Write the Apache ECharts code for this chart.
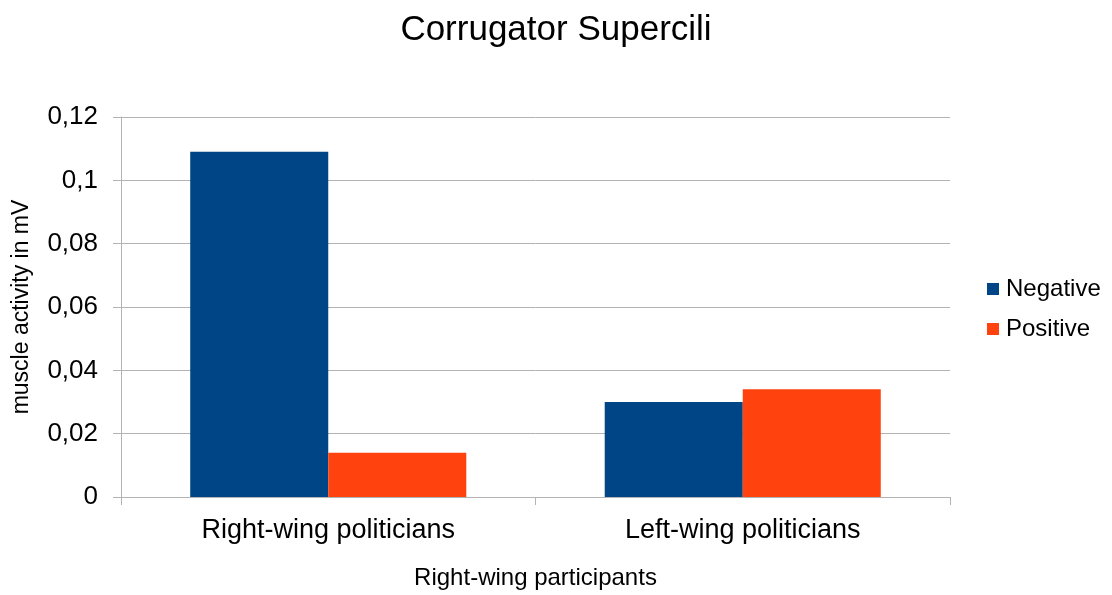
<!DOCTYPE html>
<html>
<head>
<meta charset="utf-8">
<script src="https://cdn.jsdelivr.net/npm/echarts@6/dist/echarts.min.js"></script>
<style>
  html, body { margin: 0; padding: 0; background: #fff; }
  #chart { width: 1112px; height: 595px; }
</style>
</head>
<body>
<div id="chart"></div>
<script>
// Mean corrugator supercilii activity (mV) by politician group
const categories = ['Right-wing politicians', 'Left-wing politicians'];
const negativeValues = [0.109, 0.030];
const positiveValues = [0.014, 0.034];
const yTicks = [0, 0.02, 0.04, 0.06, 0.08, 0.1, 0.12];

const FONT = '"Liberation Sans", Arial, sans-serif';
const chart = echarts.init(document.getElementById('chart'), null, { renderer: 'canvas' });

const fmt = v => String(+v.toFixed(2)).replace('.', ',');

chart.setOption({
  animation: false,
  backgroundColor: '#ffffff',
  title: {
    text: 'Corrugator Supercili',
    left: 'center',
    top: 8,
    textStyle: { fontFamily: FONT, fontSize: 35, fontWeight: 'normal', color: '#000' }
  },
  legend: {
    orient: 'vertical',
    left: 982,
    top: 272,
    itemWidth: 12,
    itemHeight: 12,
    itemGap: 16,
    icon: 'rect',
    textStyle: { fontFamily: FONT, fontSize: 24, color: '#000', padding: [0, 0, 0, 2] },
    data: ['Negative', 'Positive']
  },
  grid: { left: 121, right: 162, top: 117, bottom: 96 },
  xAxis: {
    type: 'category',
    data: categories,
    name: 'Right-wing participants',
    nameLocation: 'middle',
    nameGap: 69,
    nameTextStyle: { fontFamily: FONT, fontSize: 24, color: '#000' },
    axisLine: { show: true, lineStyle: { color: '#b3b3b3', width: 1 } },
    axisTick: { show: true, length: 8, alignWithLabel: false, lineStyle: { color: '#b3b3b3' } },
    axisLabel: { fontFamily: FONT, fontSize: 27, color: '#000', margin: 20 },
    splitLine: { show: false }
  },
  yAxis: {
    type: 'value',
    min: 0,
    max: 0.12,
    interval: 0.02,
    name: 'muscle activity in mV',
    nameLocation: 'middle',
    nameGap: 88,
    nameTextStyle: { fontFamily: FONT, fontSize: 23, color: '#000' },
    axisLine: { show: true, lineStyle: { color: '#b3b3b3', width: 1 } },
    axisTick: { show: true, length: 8, lineStyle: { color: '#b3b3b3' } },
    axisLabel: {
      fontFamily: FONT, fontSize: 26, color: '#000', margin: 23,
      formatter: v => yTicks.some(t => Math.abs(t - v) < 1e-9) ? fmt(v) : ''
    },
    splitLine: { show: true, lineStyle: { color: '#b3b3b3', width: 1 } }
  },
  series: [
    {
      name: 'Negative',
      type: 'bar',
      data: negativeValues,
      itemStyle: { color: '#004586' },
      barGap: '0%',
      barCategoryGap: '33.4%'
    },
    {
      name: 'Positive',
      type: 'bar',
      data: positiveValues,
      itemStyle: { color: '#ff420e' },
      barGap: '0%',
      barCategoryGap: '33.4%'
    }
  ]
});
</script>
</body>
</html>
